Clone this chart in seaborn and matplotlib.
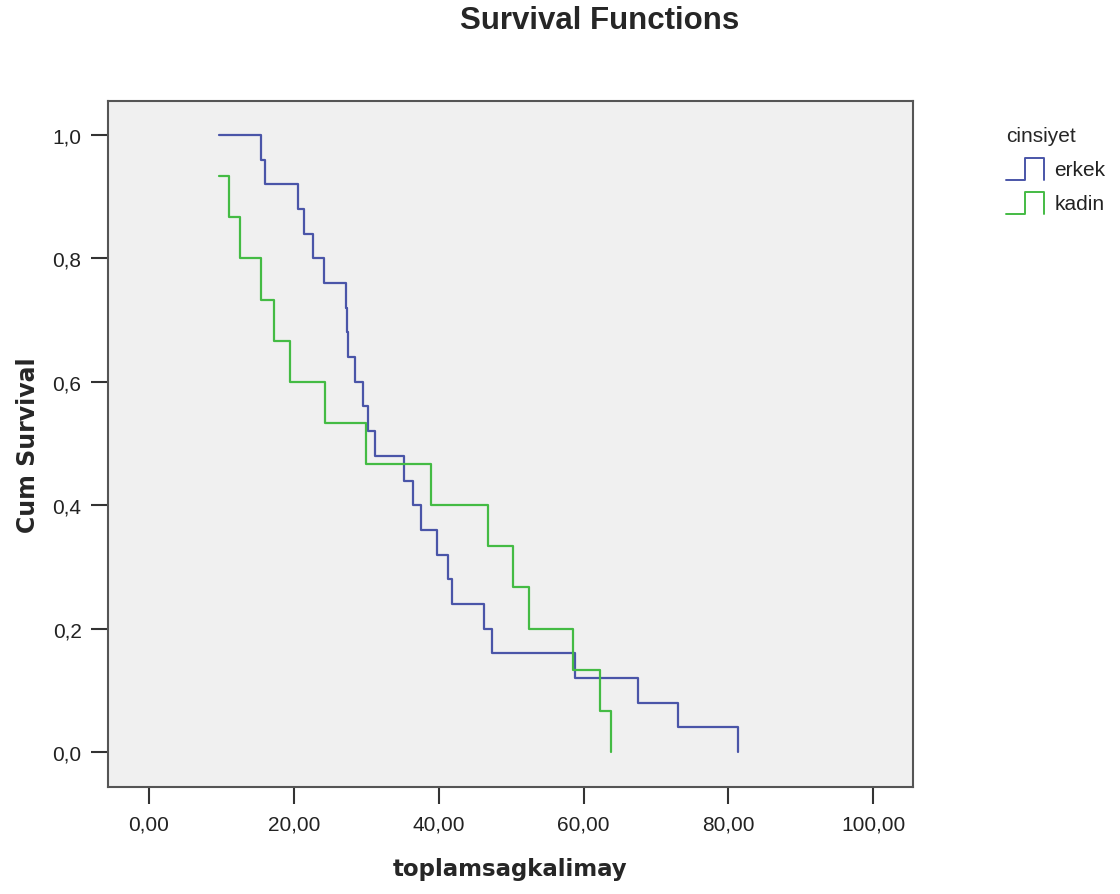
import numpy as np
import pandas as pd
import matplotlib
matplotlib.use("Agg")
import matplotlib.pyplot as plt
import seaborn as sns
from matplotlib.lines import Line2D
from matplotlib.legend_handler import HandlerBase

# Event times (toplamsagkalimay), per group
erkek_times = [15.4, 16.0, 20.5, 21.4, 22.6, 24.2, 27.2, 27.35, 27.5, 28.4,
               29.6, 30.3, 31.2, 35.2, 36.5, 37.6, 39.7, 41.3, 41.8, 46.3,
               47.4, 58.8, 67.5, 73.0, 81.3]
kadin_times = [9.7, 11.1, 12.6, 15.4, 17.2, 19.5, 24.3, 29.9, 39.0, 46.8,
               50.2, 52.5, 58.5, 62.3, 63.8]
groups = ["erkek", "kadin"]
colors = {"erkek": "#4a55a8", "kadin": "#44bb44"}
x_ticks = [0, 20, 40, 60, 80, 100]
y_ticks = [0.0, 0.2, 0.4, 0.6, 0.8, 1.0]

def km(times, start):
    t = np.sort(np.asarray(times, dtype=float))
    n = len(t)
    s = 1 - np.arange(1, n + 1) / n
    xs, ys = [], []
    if t[0] > start:
        xs.append(start); ys.append(1.0)
    xs.extend(t); ys.extend(s)
    return xs, ys

start = min(min(erkek_times), min(kadin_times))
rows = []
for g, tt in zip(groups, [erkek_times, kadin_times]):
    xs, ys = km(tt, start)
    for x, y in zip(xs, ys):
        rows.append({"toplamsagkalimay": x, "Cum Survival": y, "cinsiyet": g})
df = pd.DataFrame(rows)

sns.set_style("white")
plt.rcParams["font.family"] = ["Liberation Sans", "DejaVu Sans"]

fig = plt.figure(figsize=(11.2, 8.95), dpi=100)
ax = fig.add_axes([108 / 1120, 1 - 788 / 895, (913 - 108) / 1120, (788 - 102) / 895])
ax.set_facecolor("#f0f0f0")

for g in groups:
    sub = df[df["cinsiyet"] == g]
    sns.lineplot(data=sub, x="toplamsagkalimay", y="Cum Survival", ax=ax,
                 color=colors[g], drawstyle="steps-post", linewidth=1.6,
                 estimator=None, sort=False, legend=False)

ax.set_xlim(-5.67, 105.5)
ax.set_ylim(-0.0567, 1.0551)
ax.set_xticks(x_ticks)
ax.set_xticklabels([f"{v:.2f}".replace(".", ",") for v in x_ticks], fontsize=15, color="#222222")
ax.set_yticks(y_ticks)
ax.set_yticklabels([f"{v:.1f}".replace(".", ",") for v in y_ticks], fontsize=15, color="#222222")
ax.tick_params(axis="both", direction="out", length=12, width=1.5, color="#333333",
               bottom=True, left=True)
ax.tick_params(axis="x", pad=8)
ax.tick_params(axis="y", pad=7)
for sp in ax.spines.values():
    sp.set_visible(True)
    sp.set_color("#555555")
    sp.set_linewidth(1.5)
ax.grid(False)
ax.set_xlabel("toplamsagkalimay", fontsize=16.5, fontweight="bold", labelpad=17,
              family="DejaVu Sans")
ax.set_ylabel("Cum Survival", fontsize=17, fontweight="bold", labelpad=9,
              family="DejaVu Sans")

fig.text(0.5355, 1 - 21 / 895, "Survival Functions", ha="center", va="center",
         fontsize=22.5, fontweight="bold")

class StepHandler(HandlerBase):
    def create_artists(self, legend, orig_handle, xdescent, ydescent, width, height, fontsize, trans):
        w, h = width, height
        xs = [0, 0.5 * w, 0.5 * w, w, w]
        ys = [-0.1 * h, -0.1 * h, 1.0 * h, 1.0 * h, -0.1 * h]
        ln = Line2D(np.array(xs) - xdescent, np.array(ys) - ydescent,
                    color=orig_handle.get_color(), linewidth=1.4, transform=trans)
        return [ln]

handles = [Line2D([], [], color=colors[g]) for g in groups]
leg = fig.legend(handles, groups, title="cinsiyet", loc="upper left",
                 bbox_to_anchor=(996 / 1120, 1 - 117 / 895), frameon=False,
                 handler_map={Line2D: StepHandler()}, fontsize=15,
                 title_fontsize=15, handlelength=1.8, handleheight=1.1,
                 handletextpad=0.5, labelspacing=0.6, borderpad=0)
leg._legend_box.align = "left"
for t in leg.get_texts():
    t.set_color("#222222")

fig.savefig("out.png", dpi=100, facecolor="white")
